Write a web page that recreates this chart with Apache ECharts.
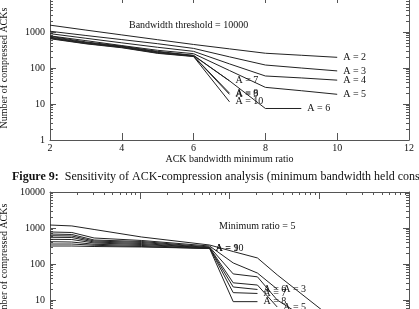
<!DOCTYPE html>
<html><head><meta charset="utf-8">
<script src="https://cdn.jsdelivr.net/npm/echarts@6/dist/echarts.min.js"></script>
<style>html,body{margin:0;padding:0;background:#fff}#c{width:419px;height:309px}</style>
</head><body><div id="c"></div>
<script>
// ---- Top chart: x = ACK bandwidth minimum ratio, bandwidth threshold = 10000
const ratioX = [2, 3, 4, 5, 6, 7, 8, 9, 10];
const topA2  = [1550, 1130, 830, 610, 450, 340, 257, 226, 198];
const topA3  = [1050, 800, 615, 473, 350, 204, 121, 100, 83];
const topA4  = [900, 670, 500, 376, 290, 130, 60, 53, 46];
const topA5  = [780, 575, 420, 310, 250, 85, 29, 23.4, 18.6];
const topA6  = [760, 530, 405, 290, 225, 44, 7.5, 7.5];
const topA7  = [720, 510, 395, 280, 220, 44];
const topA8  = [690, 495, 385, 270, 215, 20];
const topA9  = [670, 480, 375, 262, 212, 18.5];
const topA10 = [650, 470, 365, 255, 208, 11.5];
const ratioTicks = [2, 4, 6, 8, 10, 12];

// ---- Bottom chart: x = bandwidth threshold (log), minimum ratio = 5
const thresholdX = [1000, 1750, 3100, 10500, 60000, 110000, 205000, 340000, 1300000];
const botA2  = [1210, 1140, 910, 562, 337, 222, 147, 50, 3.6];
const botA3  = [775, 750, 528, 450, 316, 107, 56, 20];
const botA4  = [681, 660, 464, 422, 297, 53, 44, 10, 1.2];
const botA5  = [611, 600, 435, 396, 287, 30, 26, 6.4];
const botA6  = [552, 545, 408, 371, 278, 23, 19.6];
const botA7  = [485, 479, 383, 348, 278, 16, 15.2];
const botA8  = [416, 408, 353, 327, 270, 9, 9];
const botA9  = [359, 359, 331, 306, 270];
const botA10 = [316, 316, 306, 297, 270];
const thresholdRange = [1000, 10000000];
const countTicks = [1, 10, 100, 1000, 10000];

const FF = '"Liberation Serif", "Times New Roman", serif';
const AX = '#555', TX = '#111', LN = '#222';

function line(name, xs, ys, xi, yi) {
  return {
    type: 'line', name: name, xAxisIndex: xi, yAxisIndex: yi,
    data: ys.map((v, i) => [xs[i], v]),
    showSymbol: false, symbol: 'none', silent: true,
    lineStyle: { color: LN, width: 1 },
    endLabel: { show: true, formatter: name, distance: 6, fontFamily: FF, fontSize: 10, color: TX }
  };
}
function logY(grid, pos, showLabel, nameText) {
  return {
    type: 'log', gridIndex: grid, position: pos, logBase: 10,
    min: countTicks[0], max: countTicks[countTicks.length - 1],
    axisLine: { show: true, lineStyle: { color: AX, width: 1 } },
    axisTick: { show: true, inside: true, length: 6, lineStyle: { color: AX } },
    minorTick: { show: true, splitNumber: 9, length: 3, lineStyle: { color: AX } },
    splitLine: { show: false }, minorSplitLine: { show: false },
    axisLabel: { show: showLabel, margin: 5, fontFamily: FF, fontSize: 10, color: TX, formatter: v => String(v) },
    name: nameText || '', nameLocation: 'middle', nameGap: 40,
    nameTextStyle: { fontFamily: FF, fontSize: 10, color: TX }
  };
}
function ratioAxis(pos, showLabel) {
  return {
    type: 'value', gridIndex: 0, position: pos,
    min: ratioTicks[0], max: ratioTicks[ratioTicks.length - 1], interval: 2,
    axisLine: { show: true, lineStyle: { color: AX, width: 1 } },
    axisTick: { show: true, inside: true, length: 7, lineStyle: { color: AX } },
    splitLine: { show: false },
    axisLabel: { show: showLabel, margin: 3, fontFamily: FF, fontSize: 10, color: TX },
    name: showLabel ? 'ACK bandwidth minimum ratio' : '', nameLocation: 'middle', nameGap: 12,
    nameTextStyle: { fontFamily: FF, fontSize: 10, color: TX }
  };
}
function threshAxis(pos, showLabel) {
  return {
    type: 'log', gridIndex: 1, position: pos, logBase: 10,
    min: thresholdRange[0], max: thresholdRange[1],
    axisLine: { show: true, lineStyle: { color: AX, width: 1 } },
    axisTick: { show: true, inside: true, length: 7, lineStyle: { color: AX } },
    minorTick: { show: true, splitNumber: 9, length: 3, lineStyle: { color: AX } },
    splitLine: { show: false }, minorSplitLine: { show: false },
    axisLabel: { show: showLabel, margin: 3, fontFamily: FF, fontSize: 10, color: TX, formatter: v => String(v) }
  };
}

const chart = echarts.init(document.getElementById('c'), null, { renderer: 'canvas' });
chart.setOption({
  animation: false,
  backgroundColor: '#fff',
  title: {
    left: 7, top: 166,
    text: '{b|Figure 9:}  Sensitivity of ACK-compression analysis (minimum bandwidth held constant)',
    textStyle: { fontFamily: FF, fontSize: 12, fontWeight: 'normal', color: TX,
      rich: { b: { fontFamily: FF, fontSize: 12, fontWeight: 'bold', color: TX } } }
  },
  grid: [
    { left: 50, top: -4, width: 359, height: 144, containLabel: false, outerBoundsMode: 'none' },
    { left: 50, top: 192, width: 359, height: 144, containLabel: false, outerBoundsMode: 'none' }
  ],
  xAxis: [ratioAxis('bottom', true), ratioAxis('top', false), threshAxis('top', false), threshAxis('bottom', true)],
  yAxis: [logY(0, 'left', true, 'Number of compressed ACKs'), logY(0, 'right', false),
          logY(1, 'left', true, 'Number of compressed ACKs'), logY(1, 'right', false)],
  graphic: [
    { type: 'text', left: 129, top: 20, silent: true,
      style: { text: 'Bandwidth threshold = 10000', font: '10px ' + FF, fill: TX } },
    { type: 'text', left: 219, top: 221, silent: true,
      style: { text: 'Minimum ratio = 5', font: '10px ' + FF, fill: TX } }
  ],
  series: [
    line('A = 2', ratioX, topA2, 0, 0), line('A = 3', ratioX, topA3, 0, 0),
    line('A = 4', ratioX, topA4, 0, 0), line('A = 5', ratioX, topA5, 0, 0),
    line('A = 6', ratioX, topA6, 0, 0), line('A = 7', ratioX, topA7, 0, 0),
    line('A = 8', ratioX, topA8, 0, 0), line('A = 9', ratioX, topA9, 0, 0),
    line('A = 10', ratioX, topA10, 0, 0),
    line('A = 2', thresholdX, botA2, 3, 2), line('A = 3', thresholdX, botA3, 3, 2),
    line('A = 4', thresholdX, botA4, 3, 2), line('A = 5', thresholdX, botA5, 3, 2),
    line('A = 6', thresholdX, botA6, 3, 2), line('A = 7', thresholdX, botA7, 3, 2),
    line('A = 8', thresholdX, botA8, 3, 2), line('A = 9', thresholdX, botA9, 3, 2),
    line('A = 10', thresholdX, botA10, 3, 2)
  ]
});
</script></body></html>
